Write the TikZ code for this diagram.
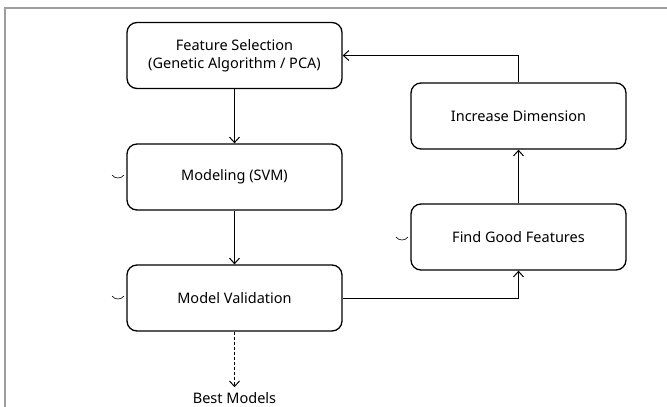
\documentclass[tikz,border=0pt]{standalone}
\usepackage{fontspec}
\setmainfont{Noto Sans}
\usetikzlibrary{arrows.meta}

\begin{document}
\begin{tikzpicture}[x=1pt,y=-1pt,
  box/.style={draw, rounded corners=10pt, line width=1.3pt,
    minimum width=215pt, minimum height=66pt, align=center,
    font=\fontsize{14.5}{18}\selectfont},
  link/.style={-{Straight Barb[length=5.5pt,width=10pt]}, line width=1pt},
  smile/.style={line width=0.6pt}]
% Page frame
\useasboundingbox (0,0) rectangle (667,407);
\draw[line width=2pt, color=black!38] (5,407) -- (5,8) -- (667,8);

% Main flow
\node[box] (select) at (234.5,55.5) {Feature Selection\\(Genetic Algorithm / PCA)};
\node[box] (model) at (234.5,177) {Modeling (SVM)};
\node[box] (valid) at (234.5,298) {Model Validation};
\node[font=\fontsize{14.5}{18}\selectfont, inner sep=0pt] (best) at (234.5,398) {Best Models};

% Feedback loop
\node[box] (find) at (518.5,237) {Find Good Features};
\node[box] (incr) at (518.5,116) {Increase Dimension};

% Arrows
\draw[link] (select) -- (model);
\draw[link] (model) -- (valid);
\draw[link, dash pattern=on 3pt off 2pt, shorten >=5pt] (valid) -- (best);
\draw[link] (valid.east) -| (find.south);
\draw[link] (find) -- (incr);
\draw[link] (incr.north) |- (select.east);

% small marks left of the boxes
\draw[smile] (112,175) .. controls (115,179) and (121,179) .. (124,175);
\draw[smile] (112,296) .. controls (115,300) and (121,300) .. (124,296);
\draw[smile] (396,237) .. controls (399,241) and (405,241) .. (408,237);
\end{tikzpicture}
\end{document}
